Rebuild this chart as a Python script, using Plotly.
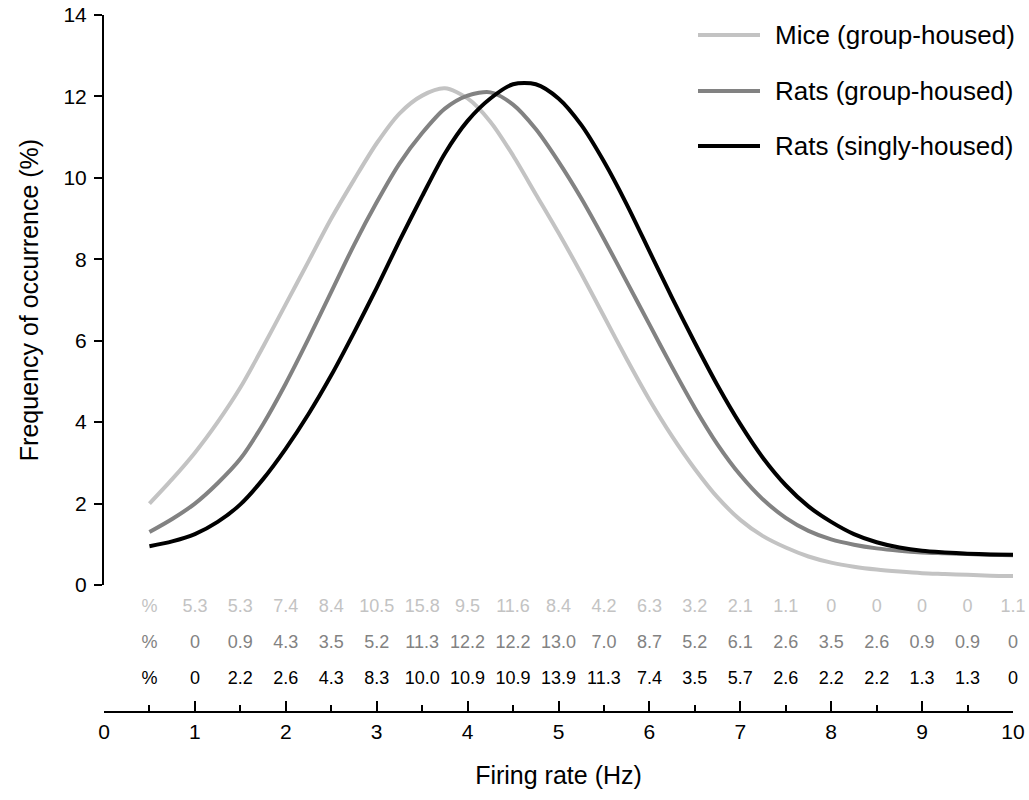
import plotly.graph_objects as go

# ---------------- data ----------------
series_names = ["Mice (group-housed)", "Rats (group-housed)", "Rats (singly-housed)"]
series_colors = ["#c3c3c3", "#828282", "#000000"]

# firing rate (Hz) sample positions of the fitted curves
curve_x = [0.5, 0.75, 1.0, 1.25, 1.5, 1.75, 2.0, 2.25, 2.5, 2.75, 3.0, 3.25, 3.5, 3.75,
           4.0, 4.25, 4.5, 4.75, 5.0, 5.25, 5.5, 5.75, 6.0, 6.25, 6.5, 6.75, 7.0, 7.25,
           7.5, 7.75, 8.0, 8.25, 8.5, 8.75, 9.0, 9.25, 9.5, 9.75, 10.0]

mice_y = [2.0, 2.6, 3.25, 4.0, 4.85, 5.85, 6.9, 7.95, 9.0, 9.95, 10.85, 11.58, 12.02, 12.2,
          11.95, 11.38, 10.55, 9.6, 8.65, 7.65, 6.6, 5.55, 4.55, 3.65, 2.85, 2.15, 1.6, 1.2,
          0.92, 0.7, 0.55, 0.45, 0.38, 0.33, 0.29, 0.27, 0.25, 0.23, 0.22]

rats_group_y = [1.3, 1.62, 2.0, 2.5, 3.1, 3.95, 4.95, 6.05, 7.2, 8.35, 9.4, 10.35, 11.1, 11.7,
                12.02, 12.1, 11.8, 11.2, 10.4, 9.5, 8.5, 7.45, 6.4, 5.35, 4.35, 3.45, 2.7, 2.1,
                1.65, 1.33, 1.12, 0.99, 0.9, 0.84, 0.8, 0.78, 0.76, 0.74, 0.73]

rats_single_y = [0.95, 1.07, 1.25, 1.55, 1.98, 2.6, 3.35, 4.2, 5.15, 6.2, 7.3, 8.45, 9.55, 10.6,
                 11.4, 11.95, 12.3, 12.3, 11.95, 11.3, 10.4, 9.35, 8.2, 7.05, 5.95, 4.9, 3.95, 3.12,
                 2.45, 1.93, 1.55, 1.25, 1.05, 0.92, 0.84, 0.8, 0.77, 0.75, 0.74]

# table of percentages per firing-rate bin
table_x = [1, 1.5, 2, 2.5, 3, 3.5, 4, 4.5, 5, 5.5, 6, 6.5, 7, 7.5, 8, 8.5, 9, 9.5, 10]
table_label_x = 0.5
mice_pct = [5.3, 5.3, 7.4, 8.4, 10.5, 15.8, 9.5, 11.6, 8.4, 4.2, 6.3, 3.2, 2.1, 1.1, 0, 0, 0, 0, 1.1]
rats_group_pct = [0, 0.9, 4.3, 3.5, 5.2, 11.3, 12.2, 12.2, 13.0, 7.0, 8.7, 5.2, 6.1, 2.6, 3.5, 2.6, 0.9, 0.9, 0]
rats_single_pct = [0, 2.2, 2.6, 4.3, 8.3, 10.0, 10.9, 10.9, 13.9, 11.3, 7.4, 3.5, 5.7, 2.6, 2.2, 2.2, 1.3, 1.3, 0]

x_ticks = [0, 1, 2, 3, 4, 5, 6, 7, 8, 9, 10]
y_ticks = [0, 2, 4, 6, 8, 10, 12, 14]

FONT = "Liberation Sans, Arial, sans-serif"


def fmt(v):
    return "0" if v == 0 else f"{v:.1f}"


fig = go.Figure()

curves = [mice_y, rats_group_y, rats_single_y]
for ys, name, col in zip(curves, series_names, series_colors):
    fig.add_trace(go.Scatter(
        x=curve_x, y=ys, mode="lines", name=name,
        line=dict(color=col, width=4, shape="spline", smoothing=0.8),
        showlegend=False, xaxis="x", yaxis="y", cliponaxis=False,
    ))

pcts = [mice_pct, rats_group_pct, rats_single_pct]
for row, (vals, col) in enumerate(zip(pcts, series_colors)):
    fig.add_trace(go.Scatter(
        x=[table_label_x] + table_x,
        y=[row] * (len(table_x) + 1),
        text=["%"] + [fmt(v) for v in vals],
        mode="text", textposition="middle center",
        textfont=dict(family=FONT, size=18, color=col),
        showlegend=False, xaxis="x", yaxis="y2", cliponaxis=False,
        hoverinfo="skip",
    ))

# custom legend (long line swatches)
W, H = 1029, 800
ML, MR, MT, MB = 104, 16, 15, 88
pw, ph = W - ML - MR, H - MT - MB


def px2x(p):
    return (p - ML) / pw


def py2y(p):
    return (H - MB - p) / ph


legend_rows = [35, 91, 146]
for name, col, ry in zip(series_names, series_colors, legend_rows):
    fig.add_shape(type="line", xref="paper", yref="paper",
                  x0=px2x(698), x1=px2x(760), y0=py2y(ry), y1=py2y(ry),
                  line=dict(color=col, width=4))
    fig.add_annotation(xref="paper", yref="paper", x=px2x(773), y=py2y(ry),
                       text=name, showarrow=False, xanchor="left", yanchor="middle",
                       font=dict(family=FONT, size=26, color="#000000"))

fig.update_layout(
    width=W, height=H,
    margin=dict(l=ML, r=MR, t=MT, b=MB, autoexpand=False),
    paper_bgcolor="white", plot_bgcolor="white",
    font=dict(family=FONT, color="#000000"),
    showlegend=False,
    xaxis=dict(
        range=[0, 10], anchor="free", position=0, automargin=False,
        showline=True, linecolor="#000", linewidth=2,
        ticks="inside", ticklen=10, tickwidth=2, tickcolor="#000",
        tickvals=x_ticks, ticktext=[str(v) for v in x_ticks],
        tickfont=dict(size=21, family=FONT),
        ticklabelstandoff=1,
        minor=dict(dtick=0.5, ticks="inside", ticklen=6, tickwidth=2, tickcolor="#000", showgrid=False),
        showgrid=False, zeroline=False,
        title=dict(text="Firing rate (Hz)", font=dict(size=25, family=FONT), standoff=23),
    ),
    yaxis=dict(
        domain=[py2y(585), 1.0], range=[0, 14], anchor="x", automargin=False,
        showline=True, linecolor="#000", linewidth=2,
        ticks="outside", ticklen=8, tickwidth=2, tickcolor="#000",
        tickvals=y_ticks, ticktext=[str(v) for v in y_ticks],
        tickfont=dict(size=21, family=FONT),
        ticklabelstandoff=3,
        showgrid=False, zeroline=False,
        title=dict(text="Frequency of occurrence (%)", font=dict(size=25, family=FONT), standoff=18),
    ),
    yaxis2=dict(
        domain=[py2y(698), py2y(589)], range=[2.5, -0.5], anchor="x",
        visible=False, showgrid=False, zeroline=False,
    ),
)

fig.write_html("out.html")
